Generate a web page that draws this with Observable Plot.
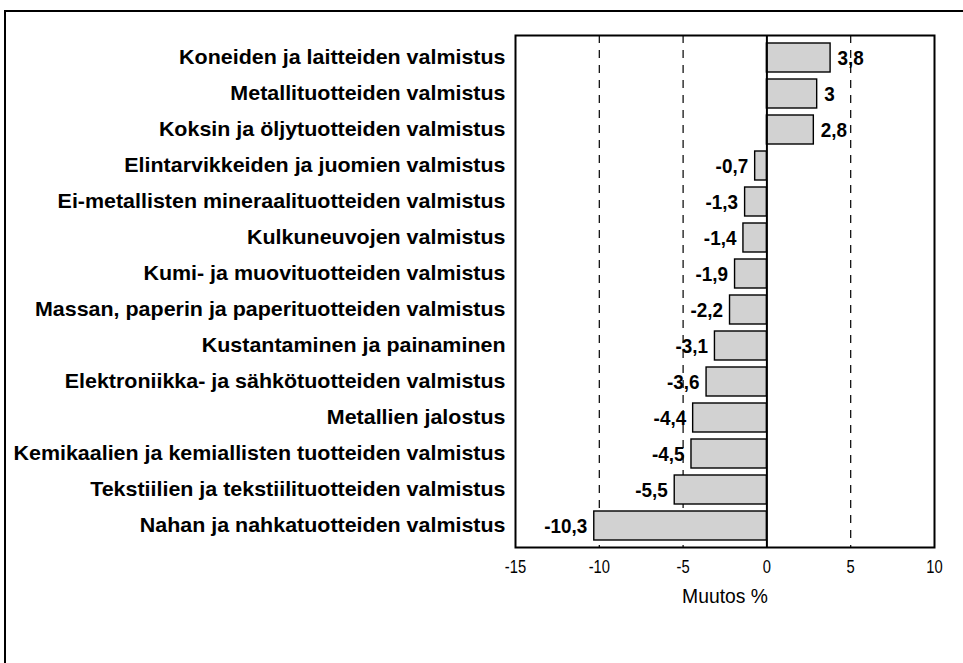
<!DOCTYPE html>
<html>
<head>
<meta charset="utf-8">
<script src="https://cdn.jsdelivr.net/npm/d3@7"></script>
<script src="https://cdn.jsdelivr.net/npm/@observablehq/plot@0.6"></script>
<style>
  html, body { margin: 0; padding: 0; background: #fff; width: 963px; height: 663px; overflow: hidden; }
  #outer { position: absolute; left: 4px; top: 10px; width: 1000px; height: 700px; border-left: 2px solid #000; border-top: 2px solid #000; }
  #chart { position: absolute; left: 0; top: 0; }
</style>
</head>
<body>
<div id="outer"></div>
<div id="chart"></div>
<script>
const categories = [
  "Koneiden ja laitteiden valmistus",
  "Metallituotteiden valmistus",
  "Koksin ja öljytuotteiden valmistus",
  "Elintarvikkeiden ja juomien valmistus",
  "Ei-metallisten mineraalituotteiden valmistus",
  "Kulkuneuvojen valmistus",
  "Kumi- ja muovituotteiden valmistus",
  "Massan, paperin ja paperituotteiden valmistus",
  "Kustantaminen ja painaminen",
  "Elektroniikka- ja sähkötuotteiden valmistus",
  "Metallien jalostus",
  "Kemikaalien ja kemiallisten tuotteiden valmistus",
  "Tekstiilien ja tekstiilituotteiden valmistus",
  "Nahan ja nahkatuotteiden valmistus"
];
const values = [3.8, 3, 2.8, -0.7, -1.3, -1.4, -1.9, -2.2, -3.1, -3.6, -4.4, -4.5, -5.5, -10.3];
const xTicks = [-15, -10, -5, 0, 5, 10];
const gridLines = [-10, -5, 5];
const xLabel = "Muutos %";

const data = categories.map((c, i) => ({
  cat: c,
  value: values[i],
  label: String(values[i]).replace(".", ",")
}));

const font = "'Liberation Sans', Arial, sans-serif";

const chart = Plot.plot({
  width: 963,
  height: 663,
  marginTop: 35,
  marginRight: 29,
  marginBottom: 116,
  marginLeft: 515,
  style: { fontFamily: font, background: "transparent" },
  x: { domain: [-15, 10], ticks: xTicks },
  y: { domain: categories, paddingInner: 0.2, paddingOuter: 0.09 },
  marks: [
    Plot.ruleX(gridLines, { stroke: "#000", strokeWidth: 1.2, strokeDasharray: "8,7" }),
    Plot.barX(data, { x: "value", y: "cat", fill: "#d2d2d2", stroke: "#000", strokeWidth: 1.4 }),
    Plot.ruleX([0], { stroke: "#000", strokeWidth: 2 }),
    Plot.text(data.filter(d => d.value >= 0), { x: "value", y: "cat", text: "label", textAnchor: "start", dx: 7, fontSize: 21, fontWeight: "bold", fill: "#000" }),
    Plot.text(data.filter(d => d.value < 0), { x: "value", y: "cat", text: "label", textAnchor: "end", dx: -7, fontSize: 21, fontWeight: "bold", fill: "#000" }),
    Plot.frame({ stroke: "#000", strokeWidth: 2 }),
    Plot.axisX({ ticks: xTicks, tickSize: 0, tickPadding: 13, fontSize: 18, label: null, tickFormat: d => String(d) }),
    Plot.text([xLabel], { frameAnchor: "bottom", dy: 55, fontSize: 21, fill: "#000" }),
    Plot.axisY({ tickSize: 0, tickPadding: 10, fontSize: 19.5, fontWeight: "bold", label: null })
  ]
});

// condense / stretch text horizontally around its anchor (keeps y="..em" attributes)
function scaleText(nodes, k) {
  nodes.forEach(t => {
    const tr = t.getAttribute("transform") || "";
    t.setAttribute("transform", `${tr} scale(${k},1)`);
  });
}
const textGroups = chart.querySelectorAll('g[aria-label="text"]');
scaleText(textGroups[0].querySelectorAll("text"), 0.9);
scaleText(textGroups[1].querySelectorAll("text"), 0.9);
scaleText(textGroups[2].querySelectorAll("text"), 0.92);
scaleText(chart.querySelectorAll('g[aria-label="x-axis tick label"] text'), 0.82);
scaleText(chart.querySelectorAll('g[aria-label="y-axis tick label"] text'), 1.1);

document.getElementById("chart").appendChild(chart);
</script>
</body>
</html>
